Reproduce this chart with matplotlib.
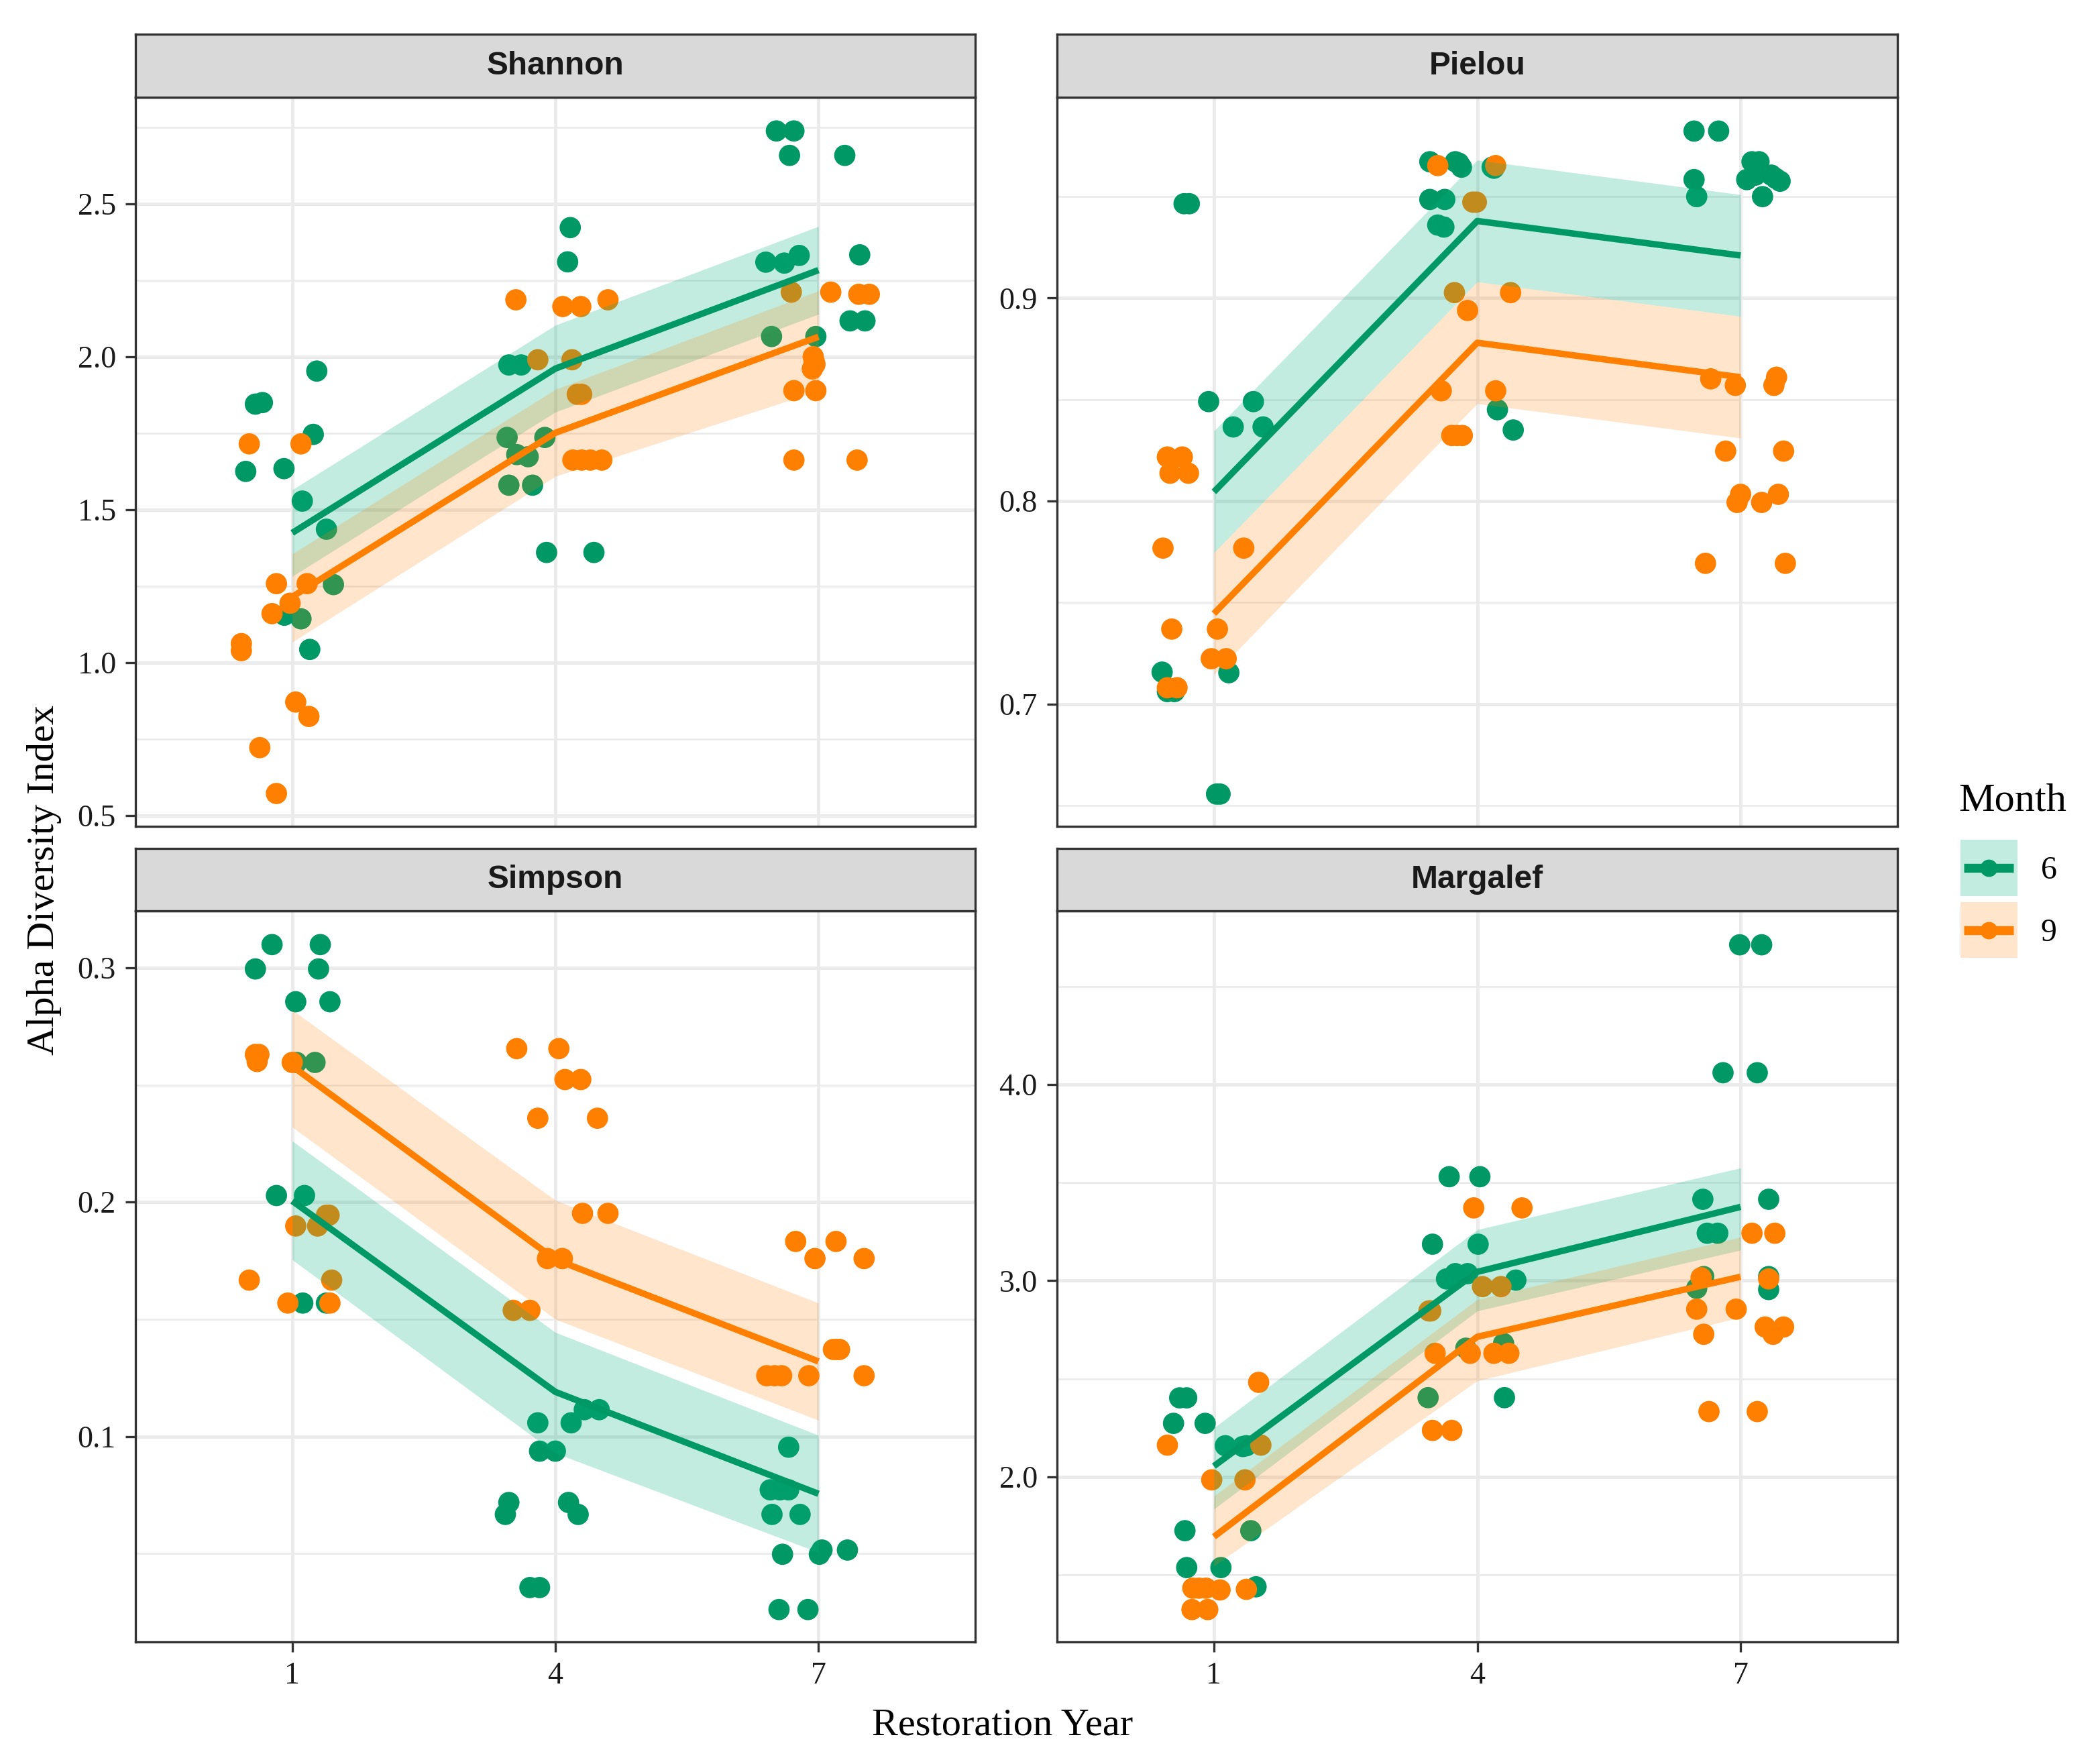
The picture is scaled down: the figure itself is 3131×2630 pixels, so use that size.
import matplotlib
matplotlib.use('Agg')
import matplotlib.pyplot as plt
from matplotlib.patches import Rectangle
from matplotlib.lines import Line2D

plt.rcParams['font.family'] = ['Liberation Serif', 'DejaVu Serif']

# ---------------- data ----------------
years = [1, 4, 7]
months = ['6', '9']

# Shannon
sh_x6 = [0.58, 0.66, 0.47, 0.906, 1.28, 1.24, 1.115, 1.39, 1.47, 0.91, 1.10, 1.20,
         4.17, 4.14, 3.47, 3.61, 3.45, 3.88, 3.56, 3.69, 3.47, 3.74, 3.90, 4.44,
         6.52, 6.72, 6.67, 7.30, 6.40, 6.61, 6.78, 7.47, 6.465, 6.97, 7.36, 7.53]
sh_y6 = [1.845, 1.85, 1.625, 1.634, 1.953, 1.746, 1.528, 1.436, 1.255, 1.155, 1.143, 1.043,
         2.422, 2.31, 1.973, 1.973, 1.736, 1.736, 1.68, 1.673, 1.58, 1.58, 1.36, 1.36,
         2.738, 2.738, 2.658, 2.658, 2.309, 2.306, 2.331, 2.333, 2.066, 2.066, 2.117, 2.117]
sh_x9 = [0.51, 1.10, 0.82, 1.17, 0.77, 0.975, 0.42, 0.42, 1.04, 1.19, 0.63, 0.82,
         3.55, 4.085, 4.29, 4.60, 3.80, 4.19, 4.25, 4.30, 4.20, 4.30, 4.40, 4.53,
         6.69, 7.14, 7.46, 7.58, 6.94, 6.95, 6.93, 6.72, 6.97, 6.72, 7.44, 6.96]
sh_y9 = [1.715, 1.715, 1.258, 1.258, 1.16, 1.194, 1.062, 1.039, 0.871, 0.824, 0.722, 0.572,
         2.186, 2.164, 2.164, 2.186, 1.99, 1.99, 1.877, 1.877, 1.662, 1.662, 1.662, 1.662,
         2.211, 2.211, 2.204, 2.204, 2.0, 1.985, 1.96, 1.889, 1.889, 1.662, 1.662, 1.975]
sh_fit6 = [1.424, 1.961, 2.283]
sh_lo6 = [1.282, 1.819, 2.139]
sh_hi6 = [1.565, 2.103, 2.426]
sh_fit9 = [1.215, 1.751, 2.065]
sh_lo9 = [1.067, 1.609, 1.888]
sh_hi9 = [1.355, 1.893, 2.215]

# Pielou
pi_x6 = [0.66, 0.72, 0.94, 1.45, 1.22, 1.56, 0.41, 0.47, 0.55, 1.17, 1.03, 1.07,
         3.46, 3.75, 3.82, 4.19, 3.46, 3.63, 3.55, 3.62, 4.23, 4.41, 3.79, 4.17,
         6.47, 6.75, 6.47, 6.50, 7.07, 7.13, 7.17, 7.25, 7.35, 7.45, 7.21, 7.40]
pi_y6 = [0.9465, 0.9465, 0.849, 0.849, 0.8365, 0.8365, 0.7157, 0.7061, 0.7061, 0.7154, 0.6556, 0.6556,
         0.9672, 0.9672, 0.9645, 0.964, 0.9486, 0.9486, 0.936, 0.935, 0.845, 0.835, 0.9665, 0.9645,
         0.9823, 0.9823, 0.9584, 0.95, 0.9584, 0.9672, 0.9606, 0.95, 0.9606, 0.9576, 0.9672, 0.959]
pi_x9 = [0.47, 0.64, 0.50, 0.71, 0.42, 1.34, 0.52, 1.04, 0.97, 1.14, 0.47, 0.58,
         3.55, 4.21, 3.95, 3.99, 3.74, 4.38, 3.89, 3.59, 4.21, 3.71, 3.83, 3.77,
         6.66, 6.94, 7.41, 7.38, 6.83, 7.49, 7.00, 6.96, 7.24, 7.43, 6.60, 7.51]
pi_y9 = [0.8217, 0.8217, 0.8137, 0.8137, 0.7768, 0.7768, 0.7369, 0.7369, 0.7223, 0.7223, 0.708, 0.708,
         0.9653, 0.9653, 0.9473, 0.9473, 0.9027, 0.9027, 0.8939, 0.8543, 0.8543, 0.8323, 0.8323, 0.8323,
         0.8602, 0.857, 0.861, 0.857, 0.8246, 0.8246, 0.8033, 0.7993, 0.7993, 0.8033, 0.7693, 0.7693]
pi_fit6 = [0.8045, 0.938, 0.921]
pi_lo6 = [0.7745, 0.908, 0.891]
pi_hi6 = [0.8345, 0.968, 0.951]
pi_fit9 = [0.7445, 0.878, 0.861]
pi_lo9 = [0.7145, 0.848, 0.831]
pi_hi9 = [0.7745, 0.908, 0.891]

# Simpson
si_x6 = [0.77, 1.32, 0.58, 1.30, 1.04, 1.43, 1.05, 1.26, 0.82, 1.14, 1.12, 1.39,
         3.80, 4.18, 3.82, 4.00, 4.33, 4.50, 3.47, 3.43, 4.15, 4.26, 3.71, 3.82,
         6.66, 6.45, 6.66, 6.47, 6.79, 6.59, 7.01, 7.04, 7.33, 6.55, 6.88, 6.56]
si_y6 = [0.3099, 0.3099, 0.2995, 0.2995, 0.2855, 0.2855, 0.2596, 0.2596, 0.2028, 0.2028, 0.1569, 0.1569,
         0.1058, 0.1058, 0.0937, 0.0937, 0.1114, 0.1114, 0.0718, 0.0667, 0.0718, 0.0667, 0.0355, 0.0355,
         0.0954, 0.0772, 0.0772, 0.0667, 0.0667, 0.0497, 0.0497, 0.0515, 0.0515, 0.0261, 0.0261, 0.0772]
si_x9 = [0.58, 0.60, 1.00, 1.04, 1.29, 1.39, 1.42, 0.51, 1.45, 0.95, 1.43, 0.62,
         3.56, 4.04, 4.11, 4.29, 3.80, 4.48, 4.31, 4.60, 3.91, 4.08, 3.52, 3.71,
         6.74, 7.20, 6.96, 7.52, 7.17, 7.24, 6.41, 6.58, 6.89, 7.52, 6.50, 7.21]
si_y9 = [0.263, 0.260, 0.2596, 0.1898, 0.1898, 0.1944, 0.1944, 0.1667, 0.1667, 0.1569, 0.1569, 0.263,
         0.2655, 0.2655, 0.2523, 0.2523, 0.2358, 0.2358, 0.1952, 0.1952, 0.1759, 0.1759, 0.1538, 0.1538,
         0.1832, 0.1832, 0.1759, 0.1759, 0.1371, 0.1371, 0.1259, 0.1259, 0.1259, 0.1259, 0.1259, 0.1371]
si_fit6 = [0.2005, 0.1190, 0.0755]
si_lo6 = [0.1754, 0.0929, 0.0505]
si_hi6 = [0.2261, 0.1444, 0.1005]
si_fit9 = [0.258, 0.1755, 0.132]
si_lo9 = [0.232, 0.150, 0.1069]
si_hi9 = [0.282, 0.2008, 0.1569]

# Margalef
ma_x6 = [0.61, 0.69, 0.54, 0.90, 1.13, 1.37, 0.67, 1.42, 0.69, 1.08, 1.48, 1.33,
         3.68, 4.03, 3.49, 4.01, 3.65, 3.75, 3.89, 4.44, 3.87, 4.30, 3.44, 4.31,
         6.99, 7.24, 6.80, 7.19, 6.57, 7.32, 6.62, 6.74, 6.58, 6.50, 7.32, 7.32]
ma_y6 = [2.403, 2.403, 2.273, 2.273, 2.159, 2.159, 1.726, 1.726, 1.538, 1.538, 1.44, 2.155,
         3.530, 3.530, 3.186, 3.186, 3.009, 3.036, 3.036, 3.003, 2.656, 2.68, 2.404, 2.404,
         4.712, 4.712, 4.06, 4.06, 3.415, 3.415, 3.242, 3.242, 3.021, 2.961, 3.021, 2.955]
ma_x9 = [0.47, 1.535, 1.51, 0.975, 1.354, 0.76, 0.91, 1.07, 1.37, 0.75, 0.93, 0.83,
         3.96, 4.51, 3.45, 4.06, 4.27, 3.52, 3.92, 4.19, 4.36, 3.49, 3.71, 3.47,
         7.13, 7.39, 6.55, 7.32, 6.50, 6.95, 6.58, 7.28, 7.37, 7.49, 6.64, 7.19]
ma_y9 = [2.162, 2.162, 2.482, 1.985, 1.985, 1.433, 1.433, 1.424, 1.427, 1.324, 1.324, 1.433,
         3.371, 3.371, 2.846, 2.97, 2.97, 2.63, 2.63, 2.63, 2.63, 2.237, 2.237, 2.846,
         3.242, 3.242, 3.015, 3.009, 2.855, 2.855, 2.727, 2.764, 2.727, 2.764, 2.333, 2.333]
ma_fit6 = [2.055, 3.045, 3.376]
ma_lo6 = [1.836, 2.846, 3.156]
ma_hi6 = [2.25, 3.26, 3.575]
ma_fit9 = [1.695, 2.714, 3.02]
ma_lo9 = [1.546, 2.49, 2.813]
ma_hi9 = [1.902, 2.904, 3.222]

# axis ticks
sh_ticks = [0.5, 1.0, 1.5, 2.0, 2.5]
sh_minor = [0.75, 1.25, 1.75, 2.25, 2.75]
pi_ticks = [0.7, 0.8, 0.9]
pi_minor = [0.65, 0.75, 0.85, 0.95]
si_ticks = [0.1, 0.2, 0.3]
si_minor = [0.05, 0.15, 0.25]
ma_ticks = [2.0, 3.0, 4.0]
ma_minor = [1.5, 2.5, 3.5, 4.5]
x_ticks = [1, 4, 7]

# ---------------- style ----------------
col6 = '#009966'
col9 = '#FF8000'
fill6 = '#00B07A'
fill9 = '#FF8000'
alpha6 = 0.24
alpha9 = 0.20
grid_c = '#EBEBEB'
border_c = '#333333'
text_c = '#1A1A1A'

W, H = 3131, 2630
DPI = 300
fig = plt.figure(figsize=(W / DPI, H / DPI), dpi=DPI)


def fx(px):
    return px / W


def fy(py):
    return 1 - py / H


cols = [(202, 1454), (1576, 2829)]
rows = [((51, 145.5), (145.5, 1232)), ((1265, 1358), (1358, 2448))]

panels = [
    ('Shannon', 0, 0, (0.4647, 2.847), sh_ticks, sh_minor,
     (sh_x6, sh_y6, sh_fit6, sh_lo6, sh_hi6), (sh_x9, sh_y9, sh_fit9, sh_lo9, sh_hi9)),
    ('Pielou', 1, 0, (0.6397, 0.9988), pi_ticks, pi_minor,
     (pi_x6, pi_y6, pi_fit6, pi_lo6, pi_hi6), (pi_x9, pi_y9, pi_fit9, pi_lo9, pi_hi9)),
    ('Simpson', 0, 1, (0.01228, 0.3243), si_ticks, si_minor,
     (si_x6, si_y6, si_fit6, si_lo6, si_hi6), (si_x9, si_y9, si_fit9, si_lo9, si_hi9)),
    ('Margalef', 1, 1, (1.159, 4.885), ma_ticks, ma_minor,
     (ma_x6, ma_y6, ma_fit6, ma_lo6, ma_hi6), (ma_x9, ma_y9, ma_fit9, ma_lo9, ma_hi9)),
]

for name, c, r, ylim, ticks, minor, d6, d9 in panels:
    x0, x1 = cols[c]
    (sy0, sy1), (py0, py1) = rows[r]
    ax = fig.add_axes([fx(x0), fy(py1), (x1 - x0) / W, (py1 - py0) / H])
    ax.set_xlim(-0.787, 8.787)
    ax.set_ylim(*ylim)
    ax.set_xticks(x_ticks)
    ax.set_yticks(ticks)
    ax.set_yticklabels([f'{t:.1f}' for t in ticks])
    ax.set_yticks(minor, minor=True)
    ax.grid(which='major', color=grid_c, lw=1.2, zorder=0)
    ax.grid(which='minor', axis='y', color=grid_c, lw=0.65, zorder=0)
    ax.set_axisbelow(True)
    ax.tick_params(axis='both', which='major', length=3.5, width=0.8, color=border_c,
                   labelsize=11, pad=3.5, labelcolor=text_c)
    ax.tick_params(axis='y', which='minor', length=0)
    if r == 0:
        ax.tick_params(axis='x', which='both', length=0, labelbottom=False)
    else:
        ax.set_xticklabels([str(t) for t in x_ticks])
    for sp in ax.spines.values():
        sp.set_color(border_c)
        sp.set_linewidth(0.8)
        sp.set_zorder(10)

    # points (drawn below ribbons)
    for (xs, ys, fit, lo, hi), colr in ((d6, col6), (d9, col9)):
        ax.scatter(xs, ys, s=58, color=colr, edgecolors='none', zorder=2)
    # ribbons + lines
    for (xs, ys, fit, lo, hi), colr, fc, al in ((d6, col6, fill6, alpha6), (d9, col9, fill9, alpha9)):
        ax.fill_between(years, lo, hi, color=fc, alpha=al, linewidth=0, zorder=3)
        ax.plot(years, fit, color=colr, lw=2.3, zorder=4, solid_capstyle='butt')

    # strip
    sax = fig.add_axes([fx(x0), fy(sy1), (x1 - x0) / W, (sy1 - sy0) / H])
    sax.set_facecolor('#D9D9D9')
    sax.set_xticks([])
    sax.set_yticks([])
    for sp in sax.spines.values():
        sp.set_color(border_c)
        sp.set_linewidth(0.8)
    sax.text(0.5, 0.5, name, transform=sax.transAxes, ha='center', va='center',
             fontsize=11.5, fontweight='bold', color=text_c,
             family=['Liberation Sans', 'DejaVu Sans'])

# axis titles
fig.text(fx(66), fy(1312), 'Alpha Diversity Index', rotation=90, ha='center', va='center',
         fontsize=14, color='black')
fig.text(fx(1495), fy(2572), 'Restoration Year', ha='center', va='center',
         fontsize=14, color='black')

# legend
fig.text(fx(2920), fy(1194), 'Month', ha='left', va='center', fontsize=14.5, color='black')
leg_items = [(months[0], col6, fill6, alpha6, 1252, 1336, 1294),
             (months[1], col9, fill9, alpha9, 1345, 1428, 1387)]
for lab, colr, fc, al, ky0, ky1, kyc in leg_items:
    fig.patches.append(Rectangle((fx(2923), fy(ky1)), 85 / W, (ky1 - ky0) / H,
                                 transform=fig.transFigure, facecolor=fc, alpha=al,
                                 edgecolor='none'))
    fig.add_artist(Line2D([fx(2928), fx(3002)], [fy(kyc), fy(kyc)], transform=fig.transFigure,
                          color=colr, lw=3.2, solid_capstyle='butt'))
    fig.add_artist(Line2D([fx(2965)], [fy(kyc)], transform=fig.transFigure, marker='o',
                          ms=6.2, color=colr, mec='none', lw=0))
    fig.text(fx(3043), fy(kyc + 4), lab, ha='left', va='center', fontsize=11.5, color='black')

fig.savefig('out.png', dpi=DPI, facecolor='white')
